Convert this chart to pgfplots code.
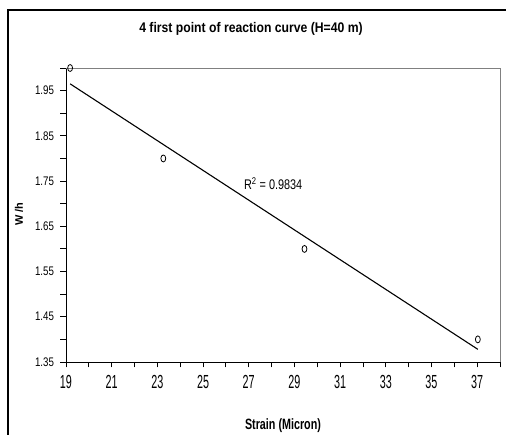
\documentclass[border=0pt]{standalone}
\usepackage{fontspec}
\setmainfont{Liberation Sans}
\newfontfamily\titlefont{Liberation Sans}[FakeStretch=0.875]
\newfontfamily\xlabfont{Liberation Sans}[FakeStretch=0.72]
\newfontfamily\xtickfont{Liberation Sans}[FakeStretch=0.57]
\newfontfamily\ytickfont{Liberation Sans}[FakeStretch=0.78]
\usepackage{pgfplots}
\pgfplotsset{compat=1.18}

\begin{document}
\begin{tikzpicture}
\useasboundingbox (0,0) rectangle (506bp,435bp);
% outer frame (left and top edges visible)
\draw[line width=1.4bp] (8bp,0) -- (8bp,425bp) -- (510bp,425bp);

\begin{axis}[
    at={(66bp,73bp)}, anchor=south west,
    scale only axis, width=434bp, height=294bp,
    xmin=19, xmax=38, ymin=1.35, ymax=2.0,
    axis lines*=left,
    axis line style={line width=1bp, black},
    tick align=outside,
    major tick length=5.5bp, minor tick length=5.5bp,
    every tick/.style={black, line width=0.9bp},
    xtick={19,21,23,25,27,29,31,33,35,37},
    minor xtick={20,22,24,26,28,30,32,34,36,38},
    ytick={1.35,1.45,1.55,1.65,1.75,1.85,1.95},
    minor ytick={1.40,1.50,1.60,1.70,1.80,1.90,2.00},
    /pgf/number format/assume math mode=true,
    xticklabel style={font=\fontsize{19}{20}\xtickfont, yshift=-4bp,
        /pgf/number format/fixed},
    yticklabel style={font=\fontsize{12.5}{14}\ytickfont, xshift=-3bp,
        /pgf/number format/fixed, /pgf/number format/fixed zerofill,
        /pgf/number format/precision=2},
    clip=false,
]
% gray top and right frame of plot area
\draw[gray, line width=1bp] (rel axis cs:0,1) -- (rel axis cs:1,1) -- (rel axis cs:1,0);

% fitted line
\addplot[black, line width=1.1bp] coordinates {(19.18,1.965) (37.03,1.378)};

% measured points
\addplot[only marks, mark=o, mark size=3.5pt,
    mark options={xscale=0.7, line width=0.8bp, black}] coordinates {
(19.18,2.00) (23.26,1.80) (29.44,1.60) (37.03,1.40)
};

\node[font=\fontsize{14}{16}\ytickfont] at (axis cs:28.07,1.745) {R\textsuperscript{2} = 0.9834};
\end{axis}

\node[font=\fontsize{14}{16}\titlefont\bfseries] at (251bp,406.5bp) {4 first point of reaction curve (H=40 m)};
\node[font=\fontsize{15}{17}\xlabfont\bfseries] at (283bp,9bp) {Strain (Micron)};
\node[font=\fontsize{11}{13}\bfseries, rotate=90] at (19bp,221bp) {W /h};
\end{tikzpicture}
\end{document}
